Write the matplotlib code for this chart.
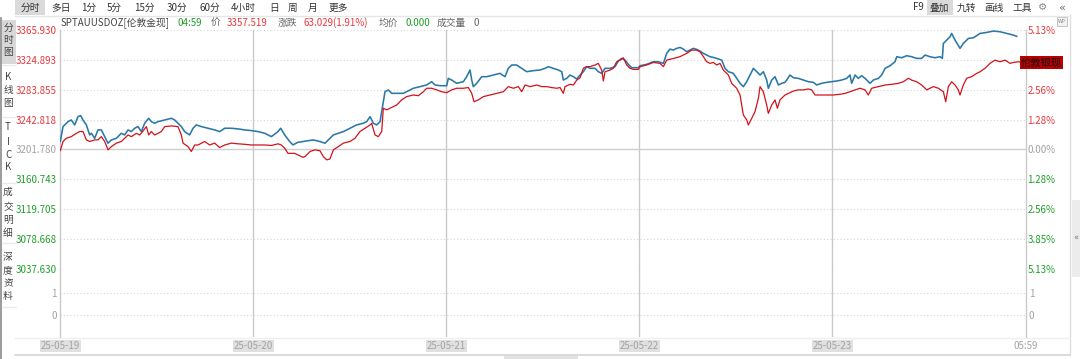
import matplotlib.pyplot as plt
from matplotlib.patches import Rectangle

plt.rcParams['font.family'] = ['Noto Sans CJK SC', 'DejaVu Sans']

# ---- data (hours since 25-05-19 open) ----
gold_h = [0.0, 0.34, 0.96, 1.37, 1.79, 2.20, 2.53, 2.82, 3.24, 3.65, 3.86, 4.27, 4.69, 5.10, 5.52,
          5.93, 6.35, 6.97, 7.59, 8.00, 8.42, 8.83, 9.25, 9.66, 10.08, 10.49, 10.99, 11.32, 11.73, 12.15,
          12.98, 13.81, 14.22, 14.63, 15.05, 15.46, 16.08, 16.50, 16.91, 17.54, 18.36, 19.19, 19.81, 20.44,
          21.26, 22.09, 22.92, 23.75, 24.58, 25.41, 26.24, 27.07, 27.40, 27.90, 28.52, 28.93, 29.55, 30.18,
          30.63, 31.46, 32.29, 32.91, 33.53, 33.95, 34.57, 35.19, 36.02, 36.85, 37.68, 38.09, 38.51, 38.92,
          39.33, 39.75, 39.96, 40.37, 40.79, 41.20, 41.82, 42.65, 43.06, 43.89, 44.72, 45.55, 46.17, 46.59,
          47.21, 48.04, 48.24, 48.66, 49.28, 50.11, 50.52, 50.94, 51.15, 51.35, 51.77, 52.39, 53.01, 53.84,
          54.67, 55.29, 55.70, 56.12, 56.74, 57.36, 57.98, 58.81, 59.64, 60.26,
          60.68, 61.30, 61.92, 62.34, 62.54, 62.96, 63.37, 63.79, 64.20, 64.62, 65.03, 65.44, 65.86, 66.48,
          66.89, 67.31, 67.72, 68.34, 68.97, 69.38, 69.80, 70.21, 70.62, 71.04, 71.87, 72.08, 72.90, 73.73,
          74.35, 74.98, 75.39, 75.80, 76.22, 76.63, 77.05, 77.46, 77.88, 78.29, 78.70, 79.12, 79.53, 79.95,
          80.36, 80.78, 81.19, 81.61, 82.23, 82.64, 83.06, 83.68, 84.09, 84.51, 84.92, 85.34, 85.75, 86.17,
          86.58, 87.00, 87.41, 87.82, 88.03, 88.45, 88.86, 89.28, 89.69, 90.10,
          90.31, 90.72, 91.14, 91.76, 92.38, 93.00, 93.62, 94.04, 94.66, 95.28, 95.90, 96.53, 97.15, 97.77,
          98.18, 98.39, 98.81, 99.22, 99.63, 100.05, 100.46, 100.67, 101.08, 101.71, 102.12, 102.54, 103.16,
          103.78, 103.99, 104.61, 105.23, 105.85, 106.47, 107.09, 107.51, 108.13, 108.75, 109.37, 109.66,
          109.79, 110.20, 110.62, 110.82, 111.24, 111.86, 112.27, 112.90, 113.52, 114.35, 115.18, 116.01,
          116.83, 117.66, 118.49, 118.91]
gold_price = [3212.6, 3233.2, 3240.0, 3242.3, 3235.5, 3246.9, 3248.3, 3242.3, 3235.5, 3221.7, 3224.0, 3217.1,
              3228.6, 3228.6, 3219.4, 3210.3, 3214.8, 3217.1, 3224.0, 3221.7, 3228.6, 3226.3, 3230.9, 3233.2,
              3226.3, 3237.8, 3244.6, 3240.0, 3237.8, 3240.0, 3242.3, 3244.6, 3242.3, 3237.8, 3233.2, 3226.3,
              3221.7, 3230.9, 3235.5, 3233.2, 3230.9, 3228.6, 3226.3, 3230.9, 3230.9, 3230.0, 3228.6, 3227.7,
              3226.3, 3224.0, 3219.4, 3226.3, 3230.9, 3221.7, 3212.6, 3208.0, 3211.6, 3212.6,
              3213.5, 3214.8, 3212.6, 3210.3, 3217.1, 3221.7, 3224.0, 3226.3, 3230.9, 3235.5, 3237.8, 3240.0,
              3246.9, 3237.8, 3235.5, 3240.0, 3253.8, 3281.3, 3283.6, 3279.0, 3279.0, 3279.0, 3281.3, 3285.9,
              3288.2, 3290.5, 3295.0, 3290.5, 3289.5, 3289.5, 3299.6, 3297.3, 3292.8, 3295.0, 3301.9, 3311.1,
              3297.3, 3288.2, 3292.8, 3301.9, 3301.9, 3304.2, 3306.5, 3301.9, 3313.4, 3318.0, 3318.0, 3313.4,
              3308.8, 3310.2, 3311.1, 3313.4,
              3315.7, 3313.4, 3311.1, 3308.8, 3297.3, 3299.6, 3304.2, 3301.9, 3298.7, 3304.2, 3308.8, 3315.7,
              3313.4, 3313.4, 3308.8, 3306.5, 3313.4, 3313.4, 3315.7, 3323.5, 3327.1, 3324.8, 3318.9, 3314.3,
              3314.3, 3317.0, 3318.9, 3322.5, 3322.5, 3320.2, 3334.0, 3339.9, 3338.6, 3340.9, 3342.2, 3339.9,
              3336.3, 3338.6, 3340.9, 3339.5, 3337.2, 3334.0, 3331.7, 3329.4, 3328.5, 3327.1, 3324.8, 3313.4,
              3308.8, 3306.5, 3299.6, 3292.8, 3288.2, 3295.0, 3304.2, 3313.4, 3308.8, 3304.2, 3308.8, 3297.3,
              3285.9, 3297.3, 3301.9, 3290.5, 3292.8, 3294.1,
              3297.3, 3304.2, 3300.5, 3299.6, 3297.3, 3295.0, 3294.1, 3290.5, 3292.8, 3294.1, 3295.0, 3296.0,
              3297.3, 3299.6, 3304.2, 3292.8, 3304.2, 3299.6, 3303.3, 3299.6, 3295.0, 3292.8, 3297.3, 3299.6,
              3304.2, 3313.4, 3317.0, 3322.5, 3329.4, 3328.0, 3330.8, 3329.4, 3327.1, 3327.1, 3331.7, 3329.4,
              3328.0, 3329.4, 3327.1, 3347.7, 3352.3, 3356.9, 3361.5, 3352.3, 3340.9, 3347.7, 3354.6, 3355.5,
              3361.5, 3362.9, 3364.7, 3363.8, 3361.5, 3359.2, 3357.5]

silver_h = [0.0, 0.34, 0.75, 1.37, 1.99, 2.41, 2.82, 3.24, 3.65, 4.27, 4.69, 5.10, 5.52, 5.93, 6.35,
            6.97, 7.59, 8.00, 8.42, 8.83, 9.45, 9.87, 10.28, 10.70, 10.99, 11.32, 11.73, 12.15, 12.56, 12.98,
            13.81, 14.63, 15.05, 15.26, 15.88, 16.29, 16.71, 17.12, 17.95, 18.57, 19.19, 19.81, 20.44, 21.26,
            22.09, 22.92, 23.75, 24.58, 25.41, 26.24, 27.07, 27.48, 27.90, 28.31, 29.14, 29.55, 30.18,
            30.42, 31.05, 31.67, 32.29, 32.70, 33.12, 33.53, 33.95, 34.57, 35.19, 36.02, 36.64, 37.26, 37.88,
            38.51, 38.71, 39.13, 39.54, 39.96, 40.16, 40.58, 40.99, 41.82, 42.44, 43.06, 43.89, 44.51, 45.14,
            45.55, 46.17, 46.79, 47.42, 48.04, 48.66, 49.28, 50.11, 50.73, 51.15, 51.44, 51.97, 52.60, 53.42,
            54.25, 55.08, 55.70, 56.33, 56.95, 57.36, 57.78, 58.40, 59.23, 59.85, 60.26,
            60.47, 61.09, 61.71, 62.13, 62.54, 62.75, 63.37, 63.79, 64.20, 64.62, 65.03, 65.44, 65.86, 66.48,
            66.89, 67.31, 67.52, 67.72, 68.34, 68.76, 69.17, 69.59, 70.00, 70.42, 70.83, 71.25, 71.87, 72.08,
            72.90, 73.73, 74.56, 74.98, 75.39, 76.22, 77.05, 77.88, 78.50, 79.12, 79.53, 79.95, 80.36, 80.78,
            81.19, 81.61, 82.02, 82.44, 83.06, 83.47, 84.09, 84.51, 84.72, 84.92, 85.34, 85.54, 85.96, 86.37,
            86.79, 87.00, 87.41, 87.82, 88.03, 88.45, 88.86, 89.15, 89.48, 90.10,
            90.52, 91.14, 91.76, 92.38, 93.00, 93.42, 93.83, 94.45, 95.28, 96.11, 96.94, 97.56, 98.18, 98.81,
            99.43, 100.05, 100.46, 100.88, 101.71, 102.54, 103.36, 104.19, 104.81, 105.44, 105.85, 106.47,
            107.09, 107.72, 108.54, 109.17, 109.79, 110.08, 110.41, 110.82, 111.24, 111.65, 111.86, 112.27,
            112.69, 113.31, 113.93, 114.35, 114.97, 115.59, 116.21, 116.83, 117.46, 118.08, 118.49, 119.11,
            119.53]
silver_pct = [-0.05, 0.34, 0.48, 0.55, 0.69, 0.77, 0.77, 0.41, 0.34, 0.41, 0.41, 0.55, 0.34, -0.02, 0.12,
              0.27, 0.34, 0.48, 0.62, 0.55, 0.69, 0.62, 0.79, 0.98, 0.62, 0.77, 0.62, 0.69, 0.77, 0.98,
              1.01, 0.98, 0.62, 0.27, 0.12, -0.09, 0.19, 0.19, 0.34, 0.19, 0.27, 0.08, 0.19, 0.27,
              0.24, 0.22, 0.19, 0.19, 0.19, 0.17, 0.24, 0.19, 0.05, -0.17, -0.17, -0.24, -0.34,
              -0.31, -0.09, -0.02, -0.06, -0.31, -0.45, -0.41, -0.02, 0.12, 0.27, 0.34, 0.48, 0.77, 0.91,
              1.05, 1.12, 0.62, 0.55, 0.77, 1.77, 1.70, 1.77, 1.91, 2.13, 2.27, 2.34, 2.31, 2.48,
              2.63, 2.63, 2.56, 2.48, 2.44, 2.56, 2.63, 2.63, 2.66, 2.41, 2.05, 2.13, 2.27, 2.34,
              2.41, 2.48, 2.70, 2.63, 2.70, 2.48, 2.77, 2.70, 2.77, 2.70, 2.70,
              2.70, 2.66, 2.63, 2.66, 2.41, 2.70, 2.80, 2.77, 2.98, 3.08, 3.49, 3.56, 3.56, 3.63,
              3.70, 3.41, 2.94, 3.34, 3.41, 3.49, 3.77, 3.84, 3.94, 3.63, 3.49, 3.44, 3.44, 3.56,
              3.63, 3.74, 3.70, 3.56, 3.84, 3.91, 3.99, 4.13, 4.27, 4.27, 4.20, 3.99, 3.77, 3.70,
              3.74, 3.63, 3.70, 3.41, 3.20, 2.84, 2.63, 2.34, 1.91, 1.48, 1.27, 1.05, 1.34, 1.62,
              2.20, 2.70, 2.48, 1.91, 1.55, 1.91, 2.13, 1.77, 2.13, 2.34,
              2.41, 2.51, 2.56, 2.56, 2.60, 2.56, 2.34, 2.34, 2.34, 2.34, 2.37, 2.41, 2.48, 2.56,
              2.63, 2.56, 2.34, 2.63, 2.70, 2.77, 2.80, 2.84, 2.91, 3.06, 2.98, 2.91,
              2.77, 2.56, 2.70, 2.63, 2.48, 2.05, 2.70, 2.91, 2.77, 2.56, 2.34, 2.77,
              3.06, 3.13, 3.27, 3.34, 3.49, 3.70, 3.84, 3.77, 3.84, 3.70, 3.74, 3.77,
              3.74]

base_price = 3201.780
price_ticks = [3365.930, 3324.893, 3283.855, 3242.818, 3201.780, 3160.743, 3119.705, 3078.668, 3037.630]
pct_ticks = [5.127, 3.845, 2.563, 1.282, 0.0, -1.282, -2.563, -3.845, -5.127]
pct_labels = ['5.13%', '', '2.56%', '1.28%', '0.00%', '1.28%', '2.56%', '3.85%', '5.13%']
day_hours = [0, 24, 48, 72, 96, 120]
day_labels = ['25-05-19', '25-05-20', '25-05-21', '25-05-22', '25-05-23', '05:59']

RED = '#e8383d'
GREEN = '#1f9e2a'
GRAY = '#a3a3a3'
BLUE_LINE = '#2a78a8'
RED_LINE = '#d2121b'
GRID = '#d6d6d6'
DIV = '#c9c9c9'

W, H = 1080, 359


def fx(px):
    return px / W


def fy(py):
    return 1 - py / H


def rect(fig, x0, y0, x1, y1, color, z=0):
    fig.patches.append(Rectangle((fx(x0), fy(y1)), (x1 - x0) / W, (y1 - y0) / H,
                                 transform=fig.transFigure, facecolor=color,
                                 edgecolor='none', zorder=z))


def hline(fig, x0, x1, y, color, lw=1.0):
    fig.add_artist(plt.Line2D([fx(x0), fx(x1)], [fy(y), fy(y)], color=color, lw=lw,
                              transform=fig.transFigure))


def vline(fig, x, y0, y1, color, lw=1.0):
    fig.add_artist(plt.Line2D([fx(x), fx(x)], [fy(y0), fy(y1)], color=color, lw=lw,
                              transform=fig.transFigure))


fig = plt.figure(figsize=(W / 100, H / 100), dpi=100)
fig.patch.set_facecolor('white')

x_left, x_right = 60.3, 1025.5
y_top, y_mid, y_bot = 30.2, 268.6, 337.0

ax = fig.add_axes([fx(x_left), fy(y_mid), (x_right - x_left) / W, (y_mid - y_top) / H])
axv = fig.add_axes([fx(x_left), fy(y_bot), (x_right - x_left) / W, (y_bot - y_mid) / H])

for a in (ax, axv):
    a.set_xlim(0, 120)
    a.set_facecolor('none')
    for s in ('top', 'bottom'):
        a.spines[s].set_visible(False)
    for s in ('left', 'right'):
        a.spines[s].set_color(DIV)
        a.spines[s].set_linewidth(1.0)
    for hx in day_hours[1:-1]:
        a.axvline(hx, color=DIV, lw=1.0, zorder=1)
    a.tick_params(axis='both', length=0, labelsize=7)

# price panel
ax.set_ylim(price_ticks[-1], price_ticks[0])
ax.set_yticks(price_ticks)
ax.set_yticklabels(['%.3f' % p for p in price_ticks])
ax.tick_params(axis='y', pad=2.5)
for lab, p in zip(ax.get_yticklabels(), price_ticks):
    lab.set_color(RED if p > base_price + 0.01 else (GREEN if p < base_price - 0.01 else GRAY))
for p in price_ticks:
    if abs(p - base_price) < 0.01:
        ax.axhline(p, color='#cfcfcf', lw=1.0, zorder=1)
    else:
        ax.axhline(p, color=GRID, lw=0.8, ls=(0, (1, 2)), zorder=1)
ax.set_xticks([])

n = min(len(gold_h), len(gold_price))
ax.plot(gold_h[:n], gold_price[:n], color=BLUE_LINE, lw=1.15, zorder=3)

axr = ax.twinx()
axr.set_ylim(pct_ticks[-1], pct_ticks[0])
axr.set_xlim(0, 120)
for s in ('top', 'bottom', 'left', 'right'):
    axr.spines[s].set_visible(False)
axr.set_yticks(pct_ticks)
axr.set_yticklabels(pct_labels)
axr.tick_params(axis='y', length=0, labelsize=7, pad=1.5)
for lab, v in zip(axr.get_yticklabels(), pct_ticks):
    lab.set_color(RED if v > 0 else (GREEN if v < 0 else GRAY))
m = min(len(silver_h), len(silver_pct))
axr.plot(silver_h[:m], silver_pct[:m], color=RED_LINE, lw=0.9, zorder=4)

# overlay name tag at the last silver value
axr.text(0.9955, silver_pct[m - 1], '伦敦银现', transform=axr.get_yaxis_transform(),
         ha='left', va='center', fontsize=7.4, color='#111111',
         bbox=dict(boxstyle='square,pad=0.12', facecolor='#b80000', edgecolor='none'), zorder=6)

# volume panel (empty)
axv.set_ylim(-1.0, 2.11)
axv.set_yticks([0, 1])
axv.set_yticklabels(['0', '1'], color=GRAY)
axv.tick_params(axis='y', pad=2.5, labelright=True)
for v in (0, 1):
    axv.axhline(v, color=GRID, lw=0.8, ls=(0, (1, 2)), zorder=1)
axv.set_xticks(day_hours)
axv.set_xticklabels(day_labels, color=GRAY, fontsize=7)
axv.tick_params(axis='x', pad=3.0)
for i, lab in enumerate(axv.get_xticklabels()):
    if i < len(day_labels) - 1:
        lab.set_bbox(dict(boxstyle='square,pad=0.1', facecolor='#e0e0e0', edgecolor='none'))

# frame lines
hline(fig, 15, 1068, 15.5, '#e6e6e6')
hline(fig, 15, 1068, 337.5, '#efefef')
hline(fig, 15, 1070, 354.5, '#d4d4d4', 1.2)
vline(fig, 1070, 15, 355, '#dedede')
vline(fig, 0.6, 18, 359, '#8a8a8a', 1.2)
rect(fig, 504, 355.5, 578, 359, '#e2e2e2')
rect(fig, 1071.5, 200, 1080, 277, '#ececec')
fig.text(fx(1076), fy(238), '«', fontsize=6, color='#777777', ha='center', va='center',
         family='DejaVu Sans')

# top toolbar
rect(fig, 15, 0, 45, 14.5, '#dadada')
rect(fig, 927, 0, 953, 14.5, '#dadada')
toolbar_items = [('分时', 21), ('多日', 51), ('1分', 81), ('5分', 107), ('15分', 134), ('30分', 167),
                 ('60分', 200), ('4小时', 231), ('日', 269), ('周', 288), ('月', 308), ('更多', 329),
                 ('F9', 913), ('叠加', 930), ('九转', 957), ('画线', 984), ('工具', 1012)]
for txt, xp in toolbar_items:
    fig.text(fx(xp), fy(7.5), txt, fontsize=7, color='#333333', ha='left', va='center')
fig.text(fx(1043), fy(7.5), '⚙', fontsize=7.5, color='#888888', ha='center', va='center',
         family='DejaVu Sans')
fig.text(fx(1062), fy(7.5), '«', fontsize=8, color='#666666', ha='center', va='center',
         family='DejaVu Sans')
fig.patches.append(Rectangle((fx(1057), fy(26)), 10 / W, 9 / H, transform=fig.transFigure,
                             facecolor='#f2f2f2', edgecolor='#bbbbbb', lw=0.6))
fig.text(fx(1062), fy(21.5), 'WP', fontsize=3.5, color='#888888', ha='center', va='center',
         family='DejaVu Sans')

# quote header
header = [('SPTAUUSDOZ[伦敦金现]', 61, '#444444'), ('04:59', 178, GREEN), ('价', 211, '#666666'),
          ('3357.519', 227, RED), ('涨跌', 278, '#666666'), ('63.029(1.91%)', 304, RED),
          ('均价', 379, '#666666'), ('0.000', 405, GREEN), ('成交量', 437, '#666666'),
          ('0', 473, '#666666')]
for txt, xp, col in header:
    fig.text(fx(xp), fy(23), txt, fontsize=7, color=col, ha='left', va='center')

# left side tabs
rect(fig, 1.5, 20, 15.5, 63.5, '#d8d8d8')
tabs = [('分时图', [28, 40, 52]), ('K线图', [77, 90, 103]), ('TICK', [127, 142, 155, 167]),
        ('成交明细', [192, 207, 220, 233]), ('深度资料', [257, 270, 283, 296])]
for word, ys in tabs:
    for ch, yp in zip(word, ys):
        fig.text(fx(8), fy(yp), ch, fontsize=7, color='#444444', ha='center', va='center')
for ysep in (65, 117, 183, 243, 307):
    hline(fig, 1.5, 15.5, ysep, '#ebebeb')

fig.savefig('out.png', dpi=100)
